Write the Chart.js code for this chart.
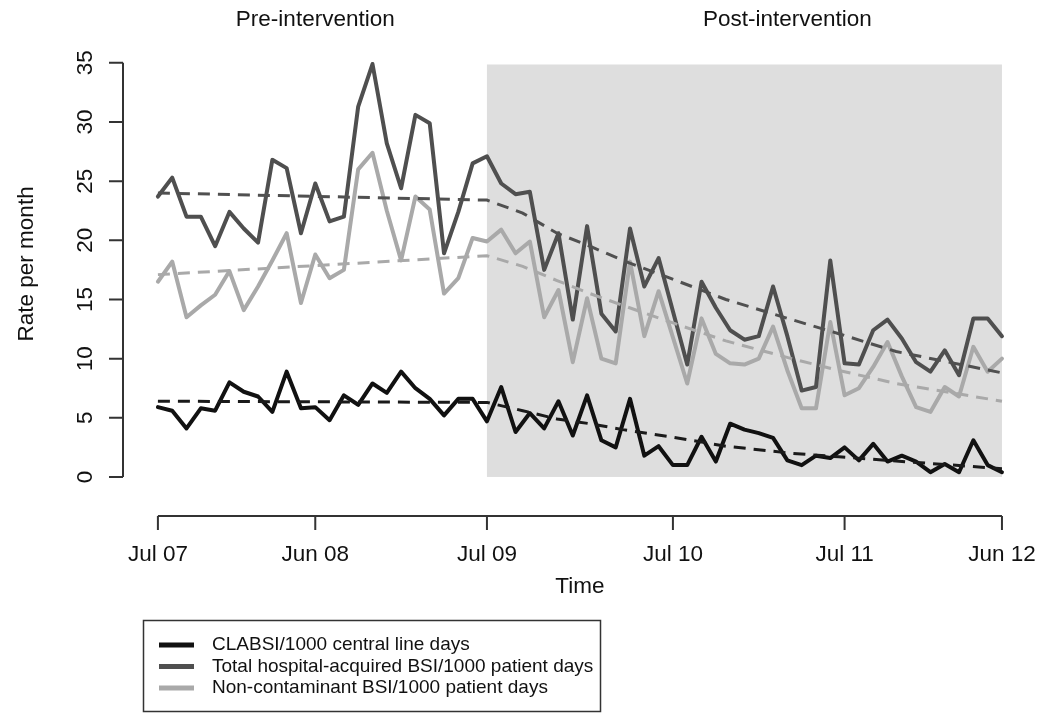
<!DOCTYPE html>
<html>
<head>
<meta charset="utf-8">
<script src="https://cdn.jsdelivr.net/npm/chart.js@4.4.1/dist/chart.umd.min.js"></script>
<style>
    html, body { margin: 0; padding: 0; background: #fff; }
</style>
</head>
<body>
<canvas id="grafica-bsi" width="1050" height="719"></canvas>
<script>

// meses Jul 07 .. Jun 12 (indice 0..59)
var meses = [
    'Jul 07','Aug 07','Sep 07','Oct 07','Nov 07','Dec 07','Jan 08','Feb 08','Mar 08','Apr 08','May 08','Jun 08',
    'Jul 08','Aug 08','Sep 08','Oct 08','Nov 08','Dec 08','Jan 09','Feb 09','Mar 09','Apr 09','May 09','Jun 09',
    'Jul 09','Aug 09','Sep 09','Oct 09','Nov 09','Dec 09','Jan 10','Feb 10','Mar 10','Apr 10','May 10','Jun 10',
    'Jul 10','Aug 10','Sep 10','Oct 10','Nov 10','Dec 10','Jan 11','Feb 11','Mar 11','Apr 11','May 11','Jun 11',
    'Jul 11','Aug 11','Sep 11','Oct 11','Nov 11','Dec 11','Jan 12','Feb 12','Mar 12','Apr 12','May 12','Jun 12'
];

var clabsi = [
    5.9, 5.6, 4.1, 5.8, 5.6, 8.0, 7.2, 6.8, 5.5, 8.9, 5.8, 5.9,
    4.8, 6.9, 6.1, 7.9, 7.1, 8.9, 7.5, 6.6, 5.2, 6.6, 6.6, 4.7,
    7.6, 3.8, 5.4, 4.1, 6.4, 3.5, 6.9, 3.1, 2.5, 6.6, 1.8, 2.6,
    1.0, 1.0, 3.4, 1.3, 4.5, 4.0, 3.7, 3.3, 1.4, 1.0, 1.8, 1.6,
    2.5, 1.4, 2.8, 1.3, 1.8, 1.3, 0.4, 1.1, 0.4, 3.1, 1.0, 0.4
];

var totalBsi = [
    23.7, 25.3, 22.0, 22.0, 19.5, 22.4, 21.0, 19.8, 26.8, 26.1, 20.6, 24.8,
    21.6, 22.0, 31.3, 34.9, 28.2, 24.4, 30.6, 29.9, 18.9, 22.4, 26.5, 27.1,
    24.8, 23.9, 24.1, 17.5, 20.6, 13.3, 21.2, 13.8, 12.3, 21.0, 16.1, 18.5,
    14.0, 9.5, 16.5, 14.3, 12.4, 11.6, 11.9, 16.1, 11.9, 7.3, 7.6, 18.3,
    9.6, 9.5, 12.4, 13.3, 11.7, 9.7, 8.9, 10.7, 8.6, 13.4, 13.4, 11.9
];

var noContaminante = [
    16.5, 18.2, 13.5, 14.5, 15.4, 17.4, 14.1, 16.1, 18.3, 20.6, 14.7, 18.8,
    16.8, 17.5, 26.0, 27.4, 22.5, 18.3, 23.7, 22.6, 15.5, 16.8, 20.2, 19.9,
    20.9, 18.9, 19.9, 13.5, 15.8, 9.7, 15.1, 10.0, 9.6, 18.2, 11.9, 15.7,
    11.8, 7.9, 13.4, 10.4, 9.6, 9.5, 10.0, 12.7, 9.0, 5.8, 5.8, 13.1,
    6.9, 7.5, 9.3, 11.4, 8.5, 5.9, 5.5, 7.6, 6.8, 11.0, 8.9, 10.0
];

var tendenciaMes     = [0, 23, 25.5, 27.9, 30.2, 32.5, 35.8, 39.7, 44.3, 47.6, 51.6, 59];
var tendenciaClabsi  = [6.4, 6.3, 5.6, 4.9, 4.5, 4.0, 3.4, 2.6, 2.0, 1.7, 1.35, 0.7];
var tendenciaTotal   = [24.0, 23.4, 22.3, 20.6, 19.5, 18.3, 16.8, 15.0, 13.3, 12.1, 10.6, 8.8];
var tendenciaNoCont  = [17.1, 18.7, 17.8, 16.6, 15.5, 14.5, 13.1, 11.5, 10.0, 9.0, 7.9, 6.4];

var etiquetasSeries = [
    'CLABSI/1000 central line days',
    'Total hospital-acquired BSI/1000 patient days',
    'Non-contaminant BSI/1000 patient days'
];

var ticksX      = [0, 11, 23, 36, 48, 59];
var ticksXTexto = ['Jul 07', 'Jun 08', 'Jul 09', 'Jul 10', 'Jul 11', 'Jun 12'];
var ticksY      = [0, 5, 10, 15, 20, 25, 30, 35];

var periodos      = ['Pre-intervention', 'Post-intervention'];
var periodoCentro = [11, 44];
var intervencion  = { desde: 23, hasta: 59, tope: 34.86 };

var FUENTE = '"Liberation Sans", Arial, Helvetica, sans-serif';

function puntos(xs, ys) {
    return ys.map(function (v, i) { return { x: xs[i], y: v }; });
}

var indices = meses.map(function (m, i) { return i; });

var serie = function (label, data, color, orden) {
    return {
        label: label,
        data: data,
        borderColor: color,
        borderWidth: 4,
        borderJoinStyle: 'round',
        borderCapStyle: 'round',
        pointRadius: 0,
        tension: 0,
        fill: false,
        order: orden
    };
};

var tendencia = function (data, color) {
    return {
        label: '',
        data: data,
        borderColor: color,
        borderWidth: 3,
        borderDash: [12, 8],
        pointRadius: 0,
        tension: 0,
        fill: false,
        order: 0
    };
};

var decoracion = {
    id: 'decoracion',

    beforeDatasetsDraw: function (chart) {
        var ctx = chart.ctx, x = chart.scales.x, y = chart.scales.y;
        var x0 = x.getPixelForValue(intervencion.desde), x1 = x.getPixelForValue(intervencion.hasta);
        var y0 = y.getPixelForValue(0), y1 = y.getPixelForValue(intervencion.tope);
        ctx.save();
        ctx.fillStyle = '#dedede';
        ctx.fillRect(x0, y1, x1 - x0, y0 - y1);
        ctx.restore();
    },

    afterDraw: function (chart) {
        var ctx = chart.ctx, x = chart.scales.x, y = chart.scales.y, area = chart.chartArea;
        ctx.save();
        ctx.strokeStyle = '#333';
        ctx.fillStyle = '#111';
        ctx.lineWidth = 2;

        // eje x
        var ejeY = area.bottom;
        ctx.beginPath();
        ctx.moveTo(x.getPixelForValue(ticksX[0]), ejeY);
        ctx.lineTo(x.getPixelForValue(ticksX[ticksX.length - 1]), ejeY);
        ticksX.forEach(function (t) {
            var px = x.getPixelForValue(t);
            ctx.moveTo(px, ejeY);
            ctx.lineTo(px, ejeY + 14);
        });
        ctx.stroke();

        ctx.font = '22.5px ' + FUENTE;
        ctx.textAlign = 'center';
        ctx.textBaseline = 'middle';
        ticksX.forEach(function (t, i) {
            ctx.fillText(ticksXTexto[i], x.getPixelForValue(t), ejeY + 39);
        });
        ctx.fillText('Time', (x.getPixelForValue(ticksX[0]) + x.getPixelForValue(ticksX[5])) / 2, ejeY + 71);

        // eje y
        var ejeX = area.left;
        ctx.beginPath();
        ctx.moveTo(ejeX, y.getPixelForValue(ticksY[0]));
        ctx.lineTo(ejeX, y.getPixelForValue(ticksY[ticksY.length - 1]));
        ticksY.forEach(function (t) {
            var py = y.getPixelForValue(t);
            ctx.moveTo(ejeX, py);
            ctx.lineTo(ejeX - 14, py);
        });
        ctx.stroke();

        ticksY.forEach(function (t) {
            ctx.save();
            ctx.translate(ejeX - 37, y.getPixelForValue(t));
            ctx.rotate(-Math.PI / 2);
            ctx.fillText(String(t), 0, 0);
            ctx.restore();
        });
        ctx.save();
        ctx.translate(ejeX - 96, (y.getPixelForValue(0) + y.getPixelForValue(35)) / 2 - 6);
        ctx.rotate(-Math.PI / 2);
        ctx.fillText('Rate per month', 0, 0);
        ctx.restore();

        // titulos de periodo
        periodos.forEach(function (p, i) {
            ctx.fillText(p, x.getPixelForValue(periodoCentro[i]), 20);
        });

        // leyenda
        var caja = { x: 143.5, y: 620.5, w: 457, h: 91 };
        ctx.lineWidth = 1.5;
        ctx.strokeRect(caja.x, caja.y, caja.w, caja.h);
        ctx.font = '19px ' + FUENTE;
        ctx.textAlign = 'left';
        for (var i = 0; i < 3; i++) {
            var ds = chart.data.datasets[i];
            var fy = 645 + i * 21.5;
            ctx.strokeStyle = ds.borderColor;
            ctx.lineWidth = 5;
            ctx.beginPath();
            ctx.moveTo(159, fy);
            ctx.lineTo(194, fy);
            ctx.stroke();
            ctx.fillText(ds.label, 212, fy);
        }
        ctx.restore();
    }
};

var ctx = document.getElementById('grafica-bsi').getContext('2d');
new Chart(ctx, {
    type: 'line',
    data: {
        datasets: [
            serie(etiquetasSeries[0], puntos(indices, clabsi), '#111111', 1),
            serie(etiquetasSeries[1], puntos(indices, totalBsi), '#4f4f4f', 1),
            serie(etiquetasSeries[2], puntos(indices, noContaminante), '#a9a9a9', 2),
            tendencia(puntos(tendenciaMes, tendenciaClabsi), '#1a1a1a'),
            tendencia(puntos(tendenciaMes, tendenciaTotal), '#505050'),
            tendencia(puntos(tendenciaMes, tendenciaNoCont), '#a9a9a9')
        ]
    },
    options: {
        responsive: false,
        animation: false,
        devicePixelRatio: 1,
        layout: { padding: { left: 123, right: 18, top: 51, bottom: 203 } },
        scales: {
            x: { type: 'linear', display: false, min: -2.44, max: 61.1 },
            y: { type: 'linear', display: false, min: -3.3, max: 36 }
        },
        plugins: {
            legend: { display: false },
            tooltip: { enabled: false }
        }
    },
    plugins: [decoracion]
});
</script>
</body>
</html>
